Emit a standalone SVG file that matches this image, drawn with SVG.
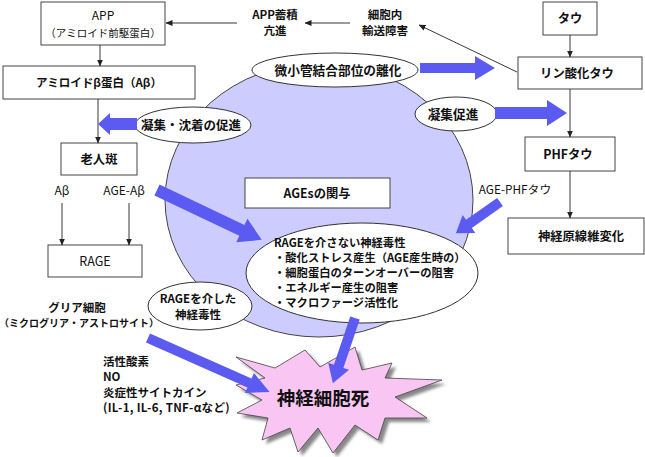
<svg xmlns="http://www.w3.org/2000/svg" width="645" height="457" viewBox="0 0 645 457">
<style>
text{font-family:"Noto Sans CJK JP","Liberation Sans",sans-serif;font-size:11.5px;fill:#111;}
.c{text-anchor:middle;}
.b{font-weight:700;}
.m{font-size:12.3px;}
.s{font-size:10.5px;}
.e{font-size:11.3px;font-weight:700;}
.box{fill:#fff;stroke:#444;stroke-width:1;}
.ell{fill:#fff;stroke:#333;stroke-width:1;}
.ln{stroke:#222;stroke-width:0.9;fill:none;marker-end:url(#ah);}
.blue{fill:#5b5bf2;}
</style>
<defs>
<marker id="ah" markerWidth="7" markerHeight="7" refX="6.5" refY="3.5" orient="auto" markerUnits="userSpaceOnUse">
<path d="M0,0.5 L7,3.5 L0,6.5 Z" fill="#222"/>
</marker>
<filter id="sh" x="-10%" y="-10%" width="130%" height="130%"><feGaussianBlur stdDeviation="1.5"/></filter>
</defs>

<g id="ages-circle"><ellipse cx="319" cy="200" rx="154" ry="137" fill="#ccccff" stroke="#444" stroke-width="1"/></g>

<g id="app"><rect class="box" x="41" y="2" width="124" height="43"/><text class="c" x="103" y="20" style="font-size:12px">APP</text><text class="c s" x="103" y="37">（アミロイド前駆蛋白）</text></g>
<g id="abeta"><rect class="box" x="3" y="66" width="192" height="33"/><text class="c b" x="99" y="87">アミロイドβ蛋白（Aβ）</text></g>
<g id="plaque"><rect class="box" x="61" y="143" width="76" height="32"/><text class="c b m" x="99" y="164">老人斑</text></g>
<g id="rage"><rect class="box" x="48" y="245" width="94" height="32"/><text class="c" x="95" y="266" style="font-size:12.5px">RAGE</text></g>
<g id="tau"><rect class="box" x="543" y="2" width="54" height="33"/><text class="c b m" x="570" y="23">タウ</text></g>
<g id="ptau"><rect class="box" x="518" y="57" width="124" height="32"/><text class="c b m" x="577" y="78">リン酸化タウ</text></g>
<g id="phf"><rect class="box" x="525" y="137" width="90" height="34"/><text class="c b m" x="568" y="159">PHFタウ</text></g>
<g id="nft"><rect class="box" x="508" y="218" width="136" height="36"/><text class="c b m" x="581" y="241">神経原線維変化</text></g>
<g id="ages-box"><rect class="box" x="245" y="178" width="145" height="30"/><text class="c b m" x="317" y="198">AGEsの関与</text></g>

<g id="micro"><ellipse class="ell" cx="335" cy="70" rx="83" ry="17"/><text class="c b" x="338" y="75" style="font-size:12.7px">微小管結合部位の離化</text></g>
<g id="agg"><ellipse class="ell" cx="456" cy="114" rx="41" ry="17"/><text class="c b" x="453" y="119" style="font-size:12.7px">凝集促進</text></g>
<g id="aggdep"><ellipse class="ell" cx="193" cy="125" rx="58" ry="18"/><text class="c b" x="191" y="130" style="font-size:12.5px">凝集・沈着の促進</text></g>
<g id="nonrage"><ellipse class="ell" cx="362" cy="273" rx="116" ry="50"/>
<text class="e" x="274" y="247">RAGEを介さない神経毒性</text>
<text class="e" x="274" y="262">・酸化ストレス産生（AGE産生時の）</text>
<text class="e" x="274" y="277">・細胞蛋白のターンオーバーの阻害</text>
<text class="e" x="274" y="292">・エネルギー産生の阻害</text>
<text class="e" x="274" y="307">・マクロファージ活性化</text></g>
<g id="viarage"><ellipse class="ell" cx="200" cy="306" rx="52" ry="24"/><text class="c b" x="198" y="303">RAGEを介した</text><text class="c b" x="198" y="319">神経毒性</text></g>

<g id="labels">
<text class="c b" x="275" y="19">APP蓄積</text><text class="c b" x="275" y="35">亢進</text>
<text class="c b" x="385" y="19">細胞内</text><text class="c b" x="385" y="35">輸送障害</text>
<text class="c" x="62" y="195" style="font-size:12px">Aβ</text>
<text class="c" x="124" y="195" style="font-size:12px">AGE-Aβ</text>
<text class="c" x="515" y="194" style="font-size:11.8px">AGE-PHFタウ</text>
<text class="c b" x="77" y="312">グリア細胞</text>
<text class="c b" x="79" y="327" style="font-size:10px">（ミクログリア・アストロサイト）</text>
<text class="b" x="103" y="366">活性酸素</text>
<text class="b" x="103" y="381">NO</text>
<text class="b" x="103" y="397">炎症性サイトカイン</text>
<text class="b" x="103" y="412" style="letter-spacing:0.3px">(IL-1, IL-6, TNF-αなど)</text>
</g>

<g id="death">
<polygon points="236,357 275,368 305,350 320,367 355,347 362,370 392,363 385,378 442,380 395,397 427,418 385,418 378,440 355,425 333,453 318,428 298,452 290,428 262,440 268,418 237,413 262,400 236,385 265,378" fill="#888" filter="url(#sh)" transform="translate(4,4)"/>
<polygon points="236,357 275,368 305,350 320,367 355,347 362,370 392,363 385,378 442,380 395,397 427,418 385,418 378,440 355,425 333,453 318,428 298,452 290,428 262,440 268,418 237,413 262,400 236,385 265,378" fill="#f9c6f4" stroke="#444" stroke-width="0.8"/>
<text class="c b" x="323" y="405" style="font-size:18.5px">神経細胞死</text>
</g>

<g id="connectors">
<line class="ln" x1="237" y1="23" x2="166" y2="23"/>
<line class="ln" x1="350" y1="23" x2="305" y2="23"/>
<line class="ln" x1="517" y1="72" x2="419" y2="25"/>
<line class="ln" x1="100" y1="45" x2="100" y2="66"/>
<line class="ln" x1="98" y1="99" x2="98" y2="143"/>
<line class="ln" x1="570" y1="35" x2="570" y2="57"/>
<line class="ln" x1="570" y1="89" x2="570" y2="137"/>
<line class="ln" x1="570" y1="171" x2="570" y2="218"/>
<line class="ln" x1="62" y1="203" x2="62" y2="245"/>
<line class="ln" x1="129" y1="203" x2="129" y2="245"/>
<polygon class="blue" transform="translate(420,68)" points="0,-5 55,-5 55,-12 75,0 55,12 55,5 0,5"/>
<polygon class="blue" transform="translate(495,113)" points="0,-6 52,-6 52,-13 72,0 52,13 52,6 0,6"/>
<polygon class="blue" transform="translate(137,124) rotate(180)" points="0,-6 27,-6 27,-11 39,0 27,11 27,6 0,6"/>
<polygon class="blue" transform="translate(157,190) rotate(25.46)" points="0,-6 94,-6 94,-13 116,0 94,13 94,6 0,6"/>
<polygon class="blue" transform="translate(500,202) rotate(144.8)" points="0,-5 38,-5 38,-11 54,0 38,11 38,5 0,5"/>
<polygon class="blue" transform="translate(355,318) rotate(108.7)" points="0,-5 51,-5 51,-11 69,0 51,11 51,5 0,5"/>
<polygon class="blue" transform="translate(148,338) rotate(23.9)" points="0,-5 111,-5 111,-11 133,0 111,11 111,5 0,5"/>
</g>
</svg>
